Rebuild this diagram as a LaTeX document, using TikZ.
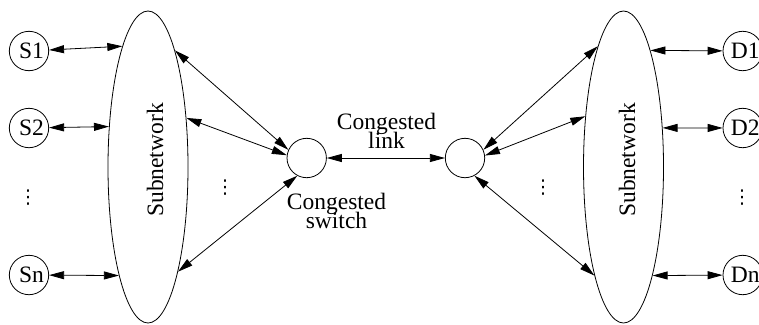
\documentclass[tikz,border=0pt]{standalone}
\usepackage{fontspec}
\setmainfont{Liberation Serif}
\newfontfamily\symfont{DejaVu Sans}
\usetikzlibrary{arrows.meta,shapes.geometric}
\begin{document}
\begin{tikzpicture}[x=1pt,y=-1pt,
  every node/.style={font=\fontsize{23.5}{19}\selectfont},
  hostnode/.style={circle,draw,line width=0.8pt,minimum size=39.4pt,inner sep=0pt},
  subnet/.style={ellipse,draw,line width=0.8pt,minimum width=80pt,minimum height=312pt,inner sep=0pt},
  switchnode/.style={circle,draw,line width=0.8pt,minimum size=39.4pt,inner sep=0pt},
  biarrow/.style={line width=0.8pt,{Triangle[length=15pt,width=8pt]}-{Triangle[length=15pt,width=8pt]}},
  txt/.style={anchor=base,inner sep=0pt},
  dotsnode/.style={inner sep=0pt,font=\symfont\fontsize{19}{19}\selectfont}]
\useasboundingbox (0,0) rectangle (759,324);

% sources and destinations (labels sit a little right of centre)
\node[hostnode] (S1) at (29,51) {\hspace*{5pt}S1};
\node[hostnode] (S2) at (29,128) {\hspace*{5pt}S2};
\node[hostnode] (Sn) at (29,275) {\hspace*{5pt}Sn};
\node[hostnode] (D1) at (742.7,51) {\hspace*{5pt}D1};
\node[hostnode] (D2) at (742.7,128) {\hspace*{5pt}D2};
\node[hostnode] (Dn) at (742.7,275) {\hspace*{5pt}Dn};
\node[dotsnode] (Sdots) at (28,198) {⋮};
\node[dotsnode] (Ddots) at (742,198) {⋮};

% the two subnetworks
\node[subnet] (SL) at (148,167) {};
\node[subnet] (SR) at (623.5,167) {};
\node[txt,rotate=90] (SLt) at (163,160) {Subnetwork};
\node[txt,rotate=90] (SRt) at (635,160) {Subnetwork};

% congested switches
\node[switchnode] (Ls) at (306.7,158) {};
\node[switchnode] (Rs) at (465,158) {};
\node[dotsnode] (Ldots) at (225,188) {⋮};
\node[dotsnode] (Rdots) at (543,188) {⋮};

% labels
\node[txt] (lk1) at (386.5,129) {Congested};
\node[txt] (lk2) at (386.5,148) {link};
\node[txt] (sw1) at (336.5,209) {Congested};
\node[txt] (sw2) at (336.5,228) {switch};

% hosts to subnetworks
\draw[biarrow] (S1) -- (SL.102.96);
\draw[biarrow] (S2) -- (SL.134.8);
\draw[biarrow] (Sn) -- (SL.255.04);
\draw[biarrow] (D1) -- (SR.77.04);
\draw[biarrow] (D2) -- (SR.45.2);
\draw[biarrow] (Dn) -- (SR.-75.04);

% subnetworks to switches
\draw[biarrow] (SL.77.26) -- (Ls.156);
\draw[biarrow] (SL.52.22) -- (Ls.172.5);
\draw[biarrow] (SL.-74.52) -- (Ls.242);
\draw[biarrow] (SR.102.74) -- (Rs.24);
\draw[biarrow] (SR.127.78) -- (Rs.7.5);
\draw[biarrow] (SR.255.04) -- (Rs.-62);

% congested link
\draw[biarrow] (Ls) -- (Rs);
\end{tikzpicture}
\end{document}
